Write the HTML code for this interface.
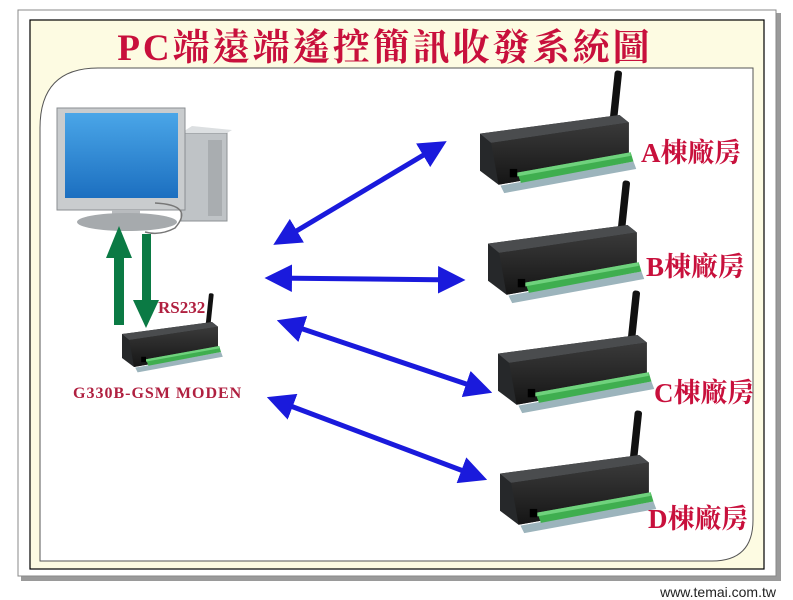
<!DOCTYPE html>
<html><head><meta charset="utf-8"><style>
html,body{margin:0;padding:0;background:#fff;width:793px;height:600px;overflow:hidden}
</style></head><body>
<svg width="793" height="600" viewBox="0 0 793 600" xmlns="http://www.w3.org/2000/svg">
<defs>
<linearGradient id="scr" x1="0" y1="0" x2="0" y2="1"><stop offset="0" stop-color="#4aa6e8"/><stop offset="1" stop-color="#1c6fc0"/></linearGradient>
<linearGradient id="box" x1="0" y1="0" x2="0" y2="1"><stop offset="0" stop-color="#3a3a3a"/><stop offset="1" stop-color="#151515"/></linearGradient>
<marker id="bh" viewBox="0 0 10 10" refX="8" refY="5" markerWidth="5.5" markerHeight="5.5" orient="auto-start-reverse"><path d="M0,0 L10,5 L0,10 z" fill="#1a1adc"/></marker>
<g id="dev">
 <rect x="140" y="-48" width="8" height="55" rx="3" fill="#111" transform="rotate(6 144 0)"/>
 <polygon points="0,20 150,0 160,8 160,50 20,75 0,60" fill="#26282a"/>
 <polygon points="0,20 150,0 160,8 12,30" fill="#4a4c4e"/>
 <polygon points="12,30 160,8 160,50 20,75" fill="url(#box)"/>
 <polygon points="22,76 165,50 168,58 26,84" fill="#9cb4bc"/>
 <polygon points="40,62 162,40 165,50 44,73" fill="#3fae4f"/>
 <polygon points="40,62 162,40 162,44 40,66" fill="#6fd27d"/>
 <rect x="32" y="58" width="8" height="9" fill="#000"/>
</g>
</defs>
<rect x="21" y="13" width="760" height="568" fill="#9a9a9a"/>
<rect x="18" y="10" width="758" height="566" fill="#fff" stroke="#888" stroke-width="1"/>
<rect x="30" y="20" width="734" height="549" fill="#fdfbe2" stroke="#000" stroke-width="1.2"/>
<path d="M98,68 H753 V520 Q753,561 712,561 H40 V128 Q40,68 98,68 Z" fill="#fff" stroke="#555" stroke-width="1"/>
<text x="385" y="60" text-anchor="middle" font-family="'Liberation Serif','Noto Serif CJK TC',serif" font-weight="bold" font-size="37" fill="#c8103c" letter-spacing="3">PC端遠端遙控簡訊收發系統圖</text>
<rect x="181" y="133" width="46" height="88" fill="#bfc3c6" stroke="#8d9194"/>
<polygon points="181,133 192,126 232,130 227,133" fill="#dcdfe1"/>
<rect x="208" y="140" width="14" height="76" fill="#a9adb0"/>
<rect x="57" y="108" width="128" height="102" fill="#c9ccce" stroke="#8a8e91"/>
<rect x="65" y="113" width="113" height="85" fill="url(#scr)"/>
<rect x="112" y="210" width="28" height="14" fill="#b8bbbe"/>
<ellipse cx="127" cy="222" rx="50" ry="9" fill="#a6aaad"/>
<path d="M155,203 Q195,205 175,228 Q160,236 145,232" fill="none" stroke="#777" stroke-width="1.5"/>
<polygon points="114,325 124,325 124,258 132,258 119,226 106,258 114,258" fill="#0b7a44"/>
<polygon points="142,234 151,234 151,300 159,300 146,328 133,300 142,300" fill="#0b7a44"/>
<text x="158" y="313" font-family="'Liberation Serif',serif" font-weight="bold" font-size="17" fill="#b02040">RS232</text>
<use href="#dev" transform="translate(122,322) scale(0.6)"/>
<text x="73" y="398" font-family="'Liberation Serif',serif" font-weight="bold" font-size="16" fill="#b02040" letter-spacing="1">G330B-GSM MODEN</text>
<g stroke="#1a1adc" stroke-width="5" marker-start="url(#bh)" marker-end="url(#bh)">
<line x1="278" y1="242" x2="442" y2="144"/>
<line x1="270" y1="278" x2="460" y2="280"/>
<line x1="282" y1="322" x2="487" y2="391"/>
<line x1="272" y1="399" x2="482" y2="478"/>
</g>
<use href="#dev" transform="translate(480,115) scale(0.93)"/>
<use href="#dev" transform="translate(488,225) scale(0.93)"/>
<use href="#dev" transform="translate(498,335) scale(0.93)"/>
<use href="#dev" transform="translate(500,455) scale(0.93)"/>
<g font-family="'Liberation Serif','Noto Serif CJK TC',serif" font-weight="bold" font-size="27" fill="#c8103c">
<text x="641" y="162">A棟廠房</text>
<text x="646" y="276">B棟廠房</text>
<text x="654" y="402">C棟廠房</text>
<text x="648" y="528">D棟廠房</text>
</g>
<text x="776" y="597" text-anchor="end" font-family="'Liberation Sans',sans-serif" font-size="14" fill="#222">www.temai.com.tw</text>
</svg>
</body></html>
